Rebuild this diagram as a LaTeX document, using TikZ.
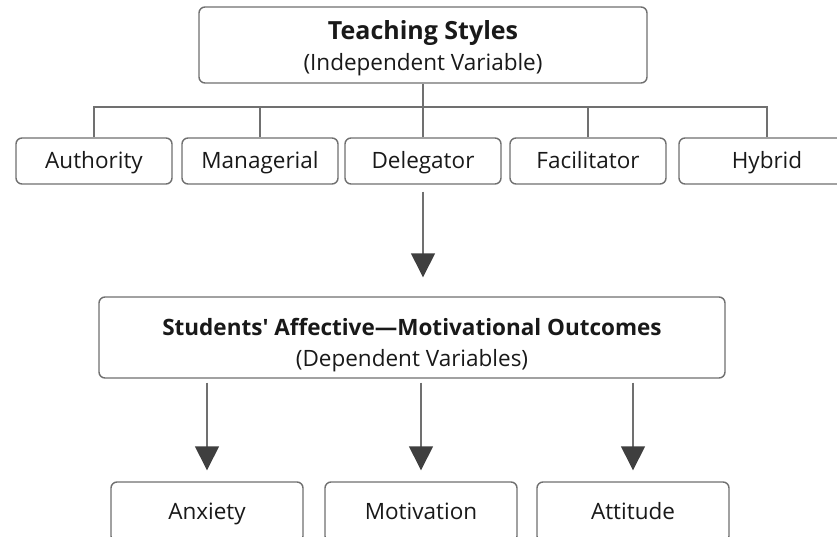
\documentclass[tikz,border=0pt]{standalone}
\usepackage{fontspec}
\setmainfont{Open Sans}[Ligatures=TeXOff]
\usetikzlibrary{arrows.meta}
\definecolor{linegray}{HTML}{707070}
\definecolor{headgray}{HTML}{3F3F3F}

\begin{document}
\begin{tikzpicture}[x=1pt, y=-1pt,
    every node/.style={draw=linegray, line width=1.4pt, rounded corners=6pt, fill=white, text=black!90,
        font=\fontsize{22.5}{31}\selectfont, align=center, inner sep=0pt},
    headbox/.style={text depth=6pt},
    stylebox/.style={minimum width=156pt, minimum height=46pt, text height=18pt, text depth=3pt},
    outbox/.style={minimum width=192pt, minimum height=60pt, text height=18pt, text depth=3pt},
    link/.style={draw=linegray, line width=1.4pt},
    arrow/.style={link, -{Triangle[width=24pt, length=24pt, fill=headgray, color=headgray]}}]

\useasboundingbox (0,0) rectangle (837,537);

\node[headbox, text height=58pt, minimum width=448pt, minimum height=76pt] (teach) at (423,45)
    {{\fontsize{25}{31}\selectfont\bfseries Teaching Styles}\\(Independent Variable)};

\node[stylebox] (s1) at (94,161) {Authority};
\node[stylebox] (s2) at (260,161) {Managerial};
\node[stylebox] (s3) at (423,161) {Delegator};
\node[stylebox] (s4) at (588,161) {Facilitator};
\node[stylebox, minimum width=176pt] (s5) at (767,161) {Hybrid};

\coordinate (bus) at (423,107);
\draw[link] (teach.south) -- (bus);
\foreach \i in {1,...,5} {
    \draw[link] (s\i.north) |- (bus);
}

\node[headbox, text height=63pt, minimum width=626pt, minimum height=81pt] (outc) at (412,337.5)
    {\textbf{Students' Affective—Motivational Outcomes}\\(Dependent Variables)};

\draw[arrow, shorten <=7pt, shorten >=19pt] (s3.south) -- (s3.south |- outc.north);

\node[outbox] (o1) at (207,512) {Anxiety};
\node[outbox] (o2) at (421,512) {Motivation};
\node[outbox] (o3) at (633,512) {Attitude};

\foreach \i in {1,2,3} {
    \draw[arrow, shorten <=4pt, shorten >=11pt] (o\i.north |- outc.south) -- (o\i.north);
}

\end{tikzpicture}
\end{document}
